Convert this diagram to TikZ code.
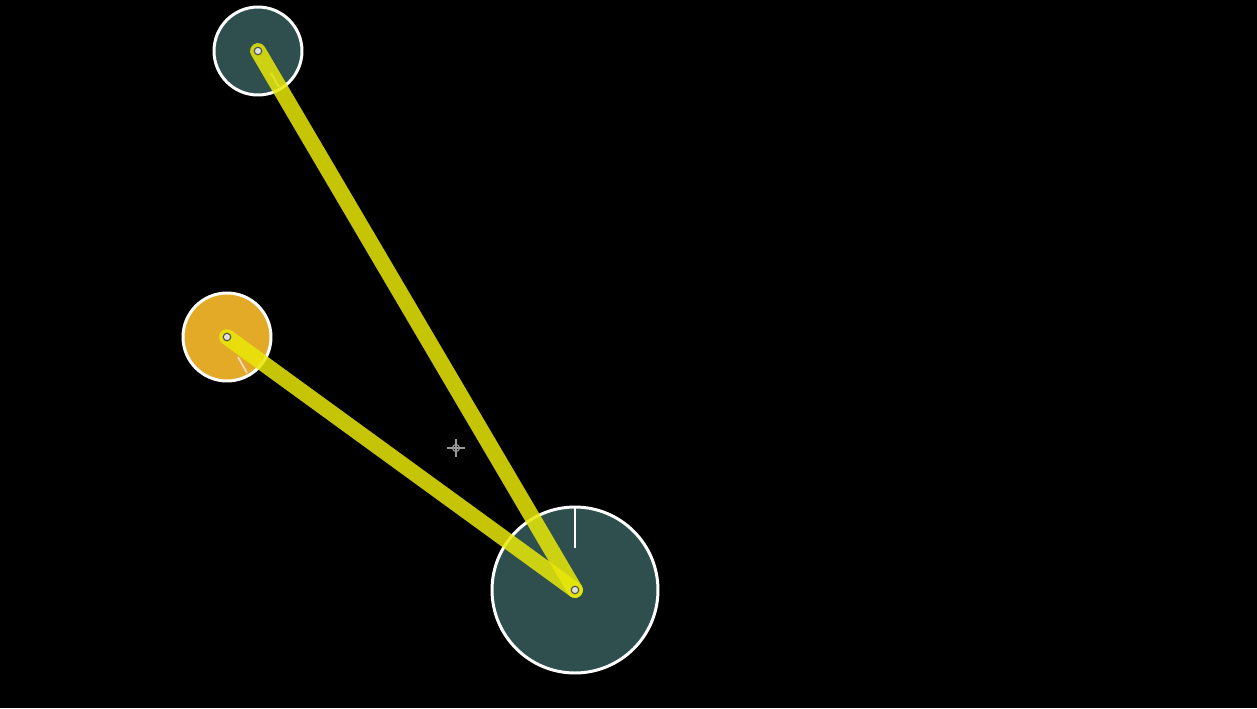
\documentclass[tikz,border=0pt]{standalone}
\usepackage{tikz}
\usepackage{xcolor}

\definecolor{slate}{RGB}{47,79,79}
\definecolor{amber}{RGB}{226,170,38}
\definecolor{rodyellow}{RGB}{232,232,8}
\definecolor{tickpink}{RGB}{245,215,200}

\begin{document}
\begin{tikzpicture}[x=0.02cm, y=-0.02cm,
  ball/.style={circle, draw=white, line width=1.7pt, inner sep=0pt},
  rod/.style={rodyellow, opacity=0.85, line width=9pt, line cap=round},
  pin/.style={circle, draw=black!70, fill=gray!25, line width=0.6pt, inner sep=0pt, minimum size=0.15cm},
  tick/.style={white, line width=1pt}]
% background
\fill[black] (0,0) rectangle (1257,708);
\useasboundingbox (0,0) rectangle (1257,708);

% weights
\node[ball, fill=slate, minimum size=1.76cm] (upper) at (258,51) {};
\node[ball, fill=amber, minimum size=1.76cm] (lower) at (227,337) {};
\node[ball, fill=slate, minimum size=3.32cm] (base) at (575,590) {};

% ticks
\draw[tick, opacity=0.7] (271,73) -- (279,87);
\draw[tick, tickpink] (238,357) -- (247,373);
\draw[tick] (575,508) -- (575,548);

% rods
\draw[rod] (upper.center) -- (base.center);
\draw[rod] (lower.center) -- (base.center);

% pins
\node[pin] at (upper.center) {};
\node[pin] at (lower.center) {};
\node[pin] at (base.center) {};

% cursor
\node[circle, draw=gray!70, line width=0.6pt, inner sep=0pt, minimum size=0.14cm] (cursor) at (456,448) {};
\draw[gray!80, line width=0.8pt] (447,448) -- (465,448);
\draw[gray!80, line width=0.8pt] (456,439) -- (456,457);
\end{tikzpicture}
\end{document}
